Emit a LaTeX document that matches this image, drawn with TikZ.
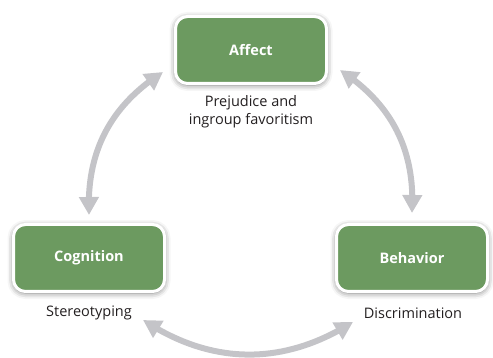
\documentclass[tikz,border=0pt]{standalone}
\usepackage{fontspec}
\setmainfont{Open Sans}
\usetikzlibrary{arrows.meta,bending,shadows.blur}
\definecolor{boxgreen}{RGB}{108,154,96}
\definecolor{arrgray}{RGB}{196,196,200}
\definecolor{txtgray}{RGB}{35,31,32}
\tikzset{
  stagebox/.style={rectangle, rounded corners=12pt, draw=white, line width=3pt,
    fill=boxgreen, minimum width=151pt, minimum height=67pt, inner sep=0pt,
    text=white, font=\fontsize{14.5}{17}\selectfont\bfseries,
    blur shadow={shadow xshift=0pt, shadow yshift=-1.5pt, shadow blur radius=6pt, shadow opacity=55}},
  caption/.style={text=txtgray, font=\fontsize{14.5}{18}\selectfont, align=center, inner sep=0pt},
  cyclearrow/.style={draw=arrgray, line width=6pt,
    {Triangle[length=18pt,width=19pt,flex]}-{Triangle[length=18pt,width=19pt,flex]}}
}
\begin{document}
\begin{tikzpicture}[x=1pt,y=-1pt]
\useasboundingbox (0,0) rectangle (493,358);
\node[stagebox] (aff) at (251,50) {Affect};
\node[stagebox] (cog) at (89,258) {Cognition};
\node[stagebox] (beh) at (412,258) {Behavior};
\node[caption] (affcap) at (251,112) {Prejudice and\\ingroup favoritism};
\node[caption] (cogcap) at (89,313) {Stereotyping};
\node[caption] (behcap) at (413,313) {Discrimination};
\draw[cyclearrow] ([yshift=8pt]cog.north) to[bend left=30] ([shift={(-11pt,13pt)}]aff.south west);
\draw[cyclearrow] ([shift={(12pt,15pt)}]aff.south east) to[bend left=30] ([yshift=10pt]beh.north);
\draw[cyclearrow] ([shift={(18pt,-29pt)}]beh.south west) to[bend left=33] ([shift={(-23pt,-27pt)}]cog.south east);
\end{tikzpicture}
\end{document}
